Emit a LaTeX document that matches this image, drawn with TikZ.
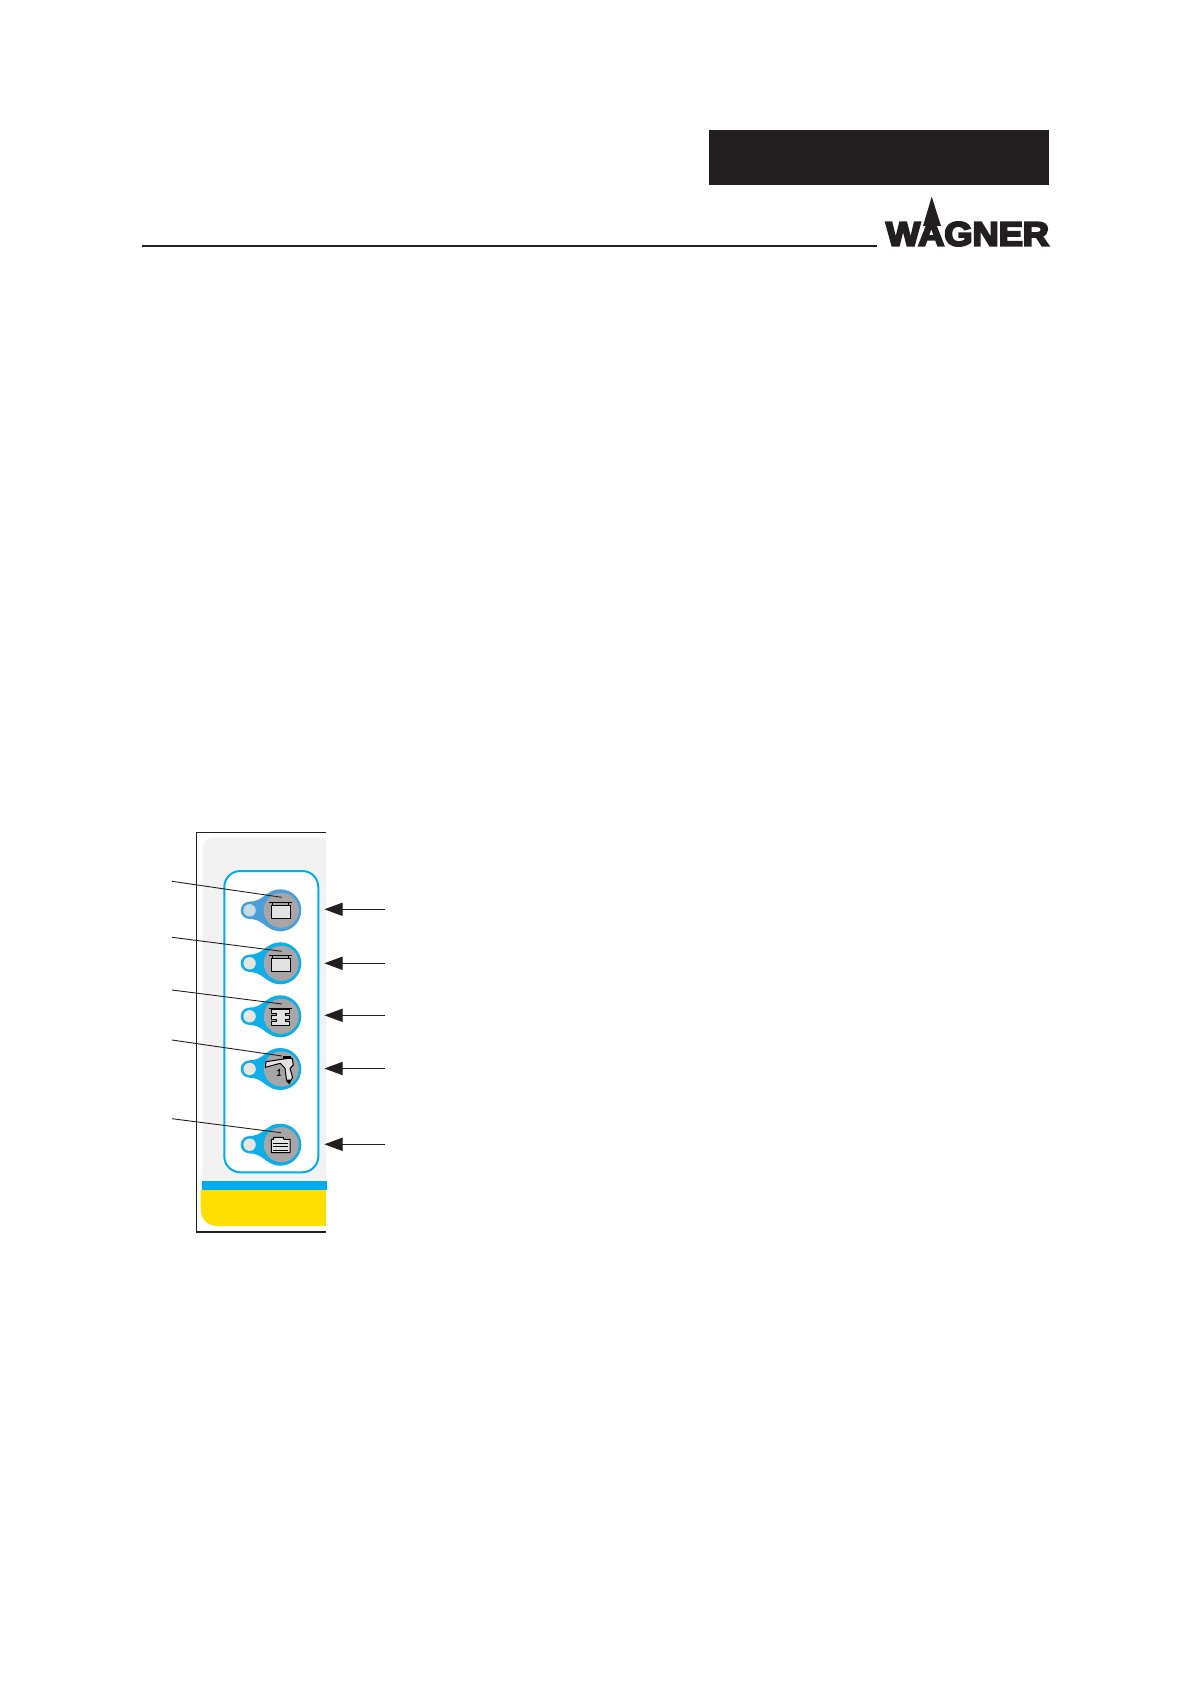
\documentclass[tikz,border=0pt]{standalone}
\usepackage{fontspec}
\usepackage{graphicx}
\usetikzlibrary{arrows.meta}
\newfontfamily\logofont[FakeBold=6]{Liberation Sans Bold}
\definecolor{btnblue}{HTML}{0FAEE8}
\definecolor{btnblueb}{HTML}{4A9FD8}
\definecolor{btngrey}{HTML}{A7A5A6}
\definecolor{lampfill}{HTML}{E6E6DE}
\definecolor{lampfillb}{HTML}{C9DCE6}
\definecolor{iconfill}{HTML}{E2E2E2}
\definecolor{panelgrey}{HTML}{F2F2F2}
\definecolor{bandblue}{HTML}{00AEEF}
\definecolor{bandyellow}{HTML}{FFDF00}
\definecolor{ink}{HTML}{231F20}
\tikzset{
  bigbtn/.style={circle,minimum size=21pt,inner sep=0pt,fill=#1},
  greydisc/.style={circle,minimum size=17.5pt,inner sep=0pt,fill=btngrey},
  smallbtn/.style={circle,minimum size=8.6pt,inner sep=0pt,fill=#1},
  lamp/.style={circle,minimum size=6.2pt,inner sep=0pt,fill=#1},
  leader/.style={draw=ink,line width=0.45pt},
  callout/.style={draw=ink,line width=0.7pt,-{Triangle[length=9.2pt,width=6.6pt]}},
  icon/.style={draw=black,line width=0.5pt,fill=iconfill,line join=round},
  iconline/.style={draw=black,line width=0.5pt}
}
% #1 name, #2 y, #3 blue, #4 lamp colour
\newcommand{\panelbutton}[4]{%
  \fill[#3] (249.3,#2-8.7) .. controls (255,#2-8.7) and (259,#2-10) .. (267,#2-16.5)
     -- (267,#2+16.5) .. controls (259,#2+10) and (255,#2+8.7) .. (249.3,#2+8.7) -- cycle;
  \node[smallbtn=#3] (s#1) at (249.3,#2) {};
  \node[bigbtn=#3] (b#1) at (280.3,#2) {};
  \node[greydisc] (g#1) at (281.3,#2) {};
  \node[lamp=#4] (l#1) at (249.6,#2) {};
}
\newcommand{\boxicon}[1]{%
  \draw[iconline] (269,#1-8.2) -- (292.3,#1-8.2);
  \draw[iconline] (272.5,#1-8.2) -- (272.5,#1-5) (288.5,#1-8.2) -- (288.5,#1-5);
  \draw[icon] (271.3,#1-5.3) rectangle (290,#1+8.2);
}
\begin{document}
\begin{tikzpicture}[x=0.5pt,y=-0.5pt]
\useasboundingbox (0,0) rectangle (1191,1684);
% header
\fill[ink] (709,130) rectangle (1049,185);
\draw[ink,line width=1pt] (142,245.7) -- (877,245.7);
% logo
\node[inner sep=0pt,text=ink] (logo) at (967.5,234) {\resizebox{81.5pt}{11.8pt}{\logofont WAGNER}};
\fill[ink] (931.7,196.7) -- (941,226) -- (923,226) -- cycle;
% panel
\fill[panelgrey] (326,1182) -- (202.7,1182) -- (202.7,850) .. controls (202.7,842) and (207,837.3) .. (215,837.3) -- (326,837.3) -- cycle;
\fill[bandblue] (202,1181) rectangle (327,1190);
\fill[bandyellow] (200.7,1190) -- (200.7,1208) .. controls (200.7,1219) and (207,1226) .. (218,1226) -- (326,1226) -- (326,1190) -- cycle;
\draw[ink,line width=0.7pt] (326,832.3) -- (196.3,832.3) -- (196.3,1232) -- (326,1232);
\draw[bandblue,fill=white,line width=1pt,rounded corners=8pt] (224.3,871) rectangle (318.3,1172.3);
% buttons
\panelbutton{1}{910.3}{btnblueb}{lampfillb}
\panelbutton{2}{963.3}{btnblue}{lampfill}
\panelbutton{3}{1016.3}{btnblue}{lampfill}
\panelbutton{4}{1069}{btnblue}{lampfill}
\panelbutton{5}{1144.7}{btnblue}{lampfill}
% icons
\boxicon{910.3}
\boxicon{963.3}
\draw[iconline] (269,1008.3) -- (292,1008.3);
\draw[icon] (271.5,1009.8) -- (289.5,1009.8) -- (289.5,1013) -- (285,1013) -- (285,1015.5) -- (289.5,1015.5) -- (289.5,1019) -- (285,1019) -- (285,1021.5) -- (289.5,1021.5) -- (289.5,1025.3) -- (271.5,1025.3) -- (271.5,1021.5) -- (276.5,1021.5) -- (276.5,1019) -- (271.5,1019) -- (271.5,1015.5) -- (276.5,1015.5) -- (276.5,1013) -- (271.5,1013) -- cycle;
\fill[black] (283,1056) rectangle (291,1059.5);
\draw[icon] (265.3,1067.3) -- (266,1061.7) -- (288.3,1058.3) -- (292.3,1058.3) -- (293.3,1065) -- (290,1068.3) -- (292.6,1077.3) -- (289.3,1083.3) -- (286.6,1080.7) -- (285,1068.3) -- (280.3,1063.3) -- cycle;
\draw[iconline] (277.5,1071) -- (279.5,1069.5) -- (279,1075) (277,1075.5) -- (281,1075);
\fill[black] (286.5,1079.5) -- (291,1079.5) -- (289.3,1084) -- (287,1082) -- cycle;
\draw[icon] (271.3,1139.3) -- (273.5,1139.3) -- (273.5,1137.3) -- (283,1137.3) -- (284,1139.3) -- (290,1139.3) -- (290,1152.7) -- (271.3,1152.7) -- cycle;
\draw[iconline] (272.7,1143.3) -- (288.3,1143.3) (272.7,1146.7) -- (288.3,1146.7) (272.7,1150) -- (288.3,1150);
% leaders
\coordinate (la1) at (172,881.3);   \coordinate (lb1) at (281.7,897.3);
\coordinate (la2) at (172,937.3);   \coordinate (lb2) at (281.7,951.3);
\coordinate (la3) at (172,990);     \coordinate (lb3) at (282,1004);
\coordinate (la4) at (172,1040);    \coordinate (lb4) at (282,1056);
\coordinate (la5) at (172,1118.7);  \coordinate (lb5) at (281,1132.7);
\foreach \i in {1,...,5} \draw[leader] (la\i) -- (lb\i);
% arrows
\coordinate (ca1) at (385,909.3);  \coordinate (ct1) at (324.3,909.3);
\coordinate (ca2) at (385,963.3);  \coordinate (ct2) at (324.3,963.3);
\coordinate (ca3) at (385,1015.3); \coordinate (ct3) at (324.3,1015.3);
\coordinate (ca4) at (385,1068.5); \coordinate (ct4) at (324.3,1068.5);
\coordinate (ca5) at (385,1144.3); \coordinate (ct5) at (324.3,1144.3);
\foreach \i in {1,...,5} \draw[callout] (ca\i) -- (ct\i);
\end{tikzpicture}
\end{document}
